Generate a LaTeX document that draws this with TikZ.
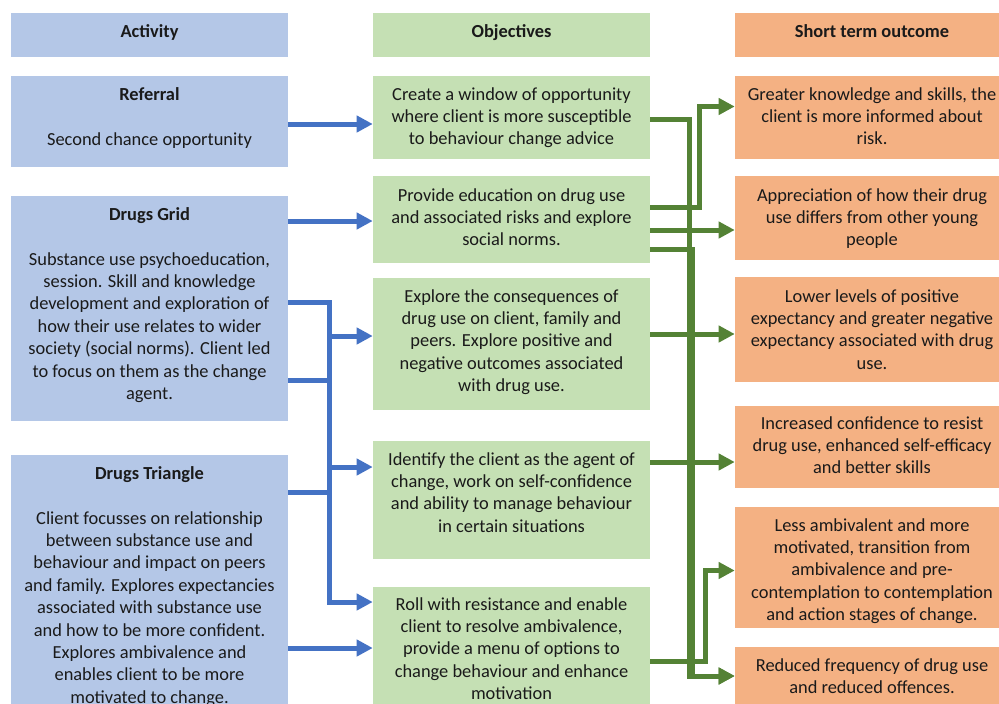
\documentclass[tikz,border=0pt]{standalone}
\usepackage{fontspec}
\setmainfont{Carlito}
\usetikzlibrary{arrows.meta,fit}
\definecolor{bfill}{HTML}{B4C7E7}
\definecolor{gfill}{HTML}{C5E0B4}
\definecolor{ofill}{HTML}{F4B183}
\definecolor{bline}{HTML}{4472C4}
\definecolor{gline}{HTML}{548235}
\definecolor{txtc}{HTML}{1A1A1A}
\begin{document}
\begin{tikzpicture}[x=0.75pt,y=-0.75pt,
  boxb/.style={rectangle,inner sep=0pt,fill=bfill},
  boxg/.style={rectangle,inner sep=0pt,fill=gfill},
  boxo/.style={rectangle,inner sep=0pt,fill=ofill},
  txt/.style={anchor=north,inner sep=0pt,align=center,text=txtc,
    font=\fontsize{13.8}{16.8}\selectfont,execute at begin node=\strut},
  bl/.style={draw=bline,line width=3.75pt},
  ba/.style={bl,-{Triangle[length=12pt,width=12pt]}},
  gl/.style={draw=gline,line width=3.75pt},
  ga/.style={gl,-{Triangle[length=12pt,width=12pt]}}
]
\useasboundingbox (0,0) rectangle (999,703);
% ---- boxes
\node[boxb,fit={(11,13) (288,57)}] (hA) {};
\node[boxb,fit={(11,76) (288,167)}] (ref) {};
\node[boxb,fit={(11,196) (288,421)}] (grid) {};
\node[boxb,fit={(11,455) (288,720)}] (tri) {};
\node[boxg,fit={(373,13) (650,57)}] (hO) {};
\node[boxg,fit={(373,76) (650,159)}] (o1) {};
\node[boxg,fit={(373,176) (650,263)}] (o2) {};
\node[boxg,fit={(373,278) (650,410)}] (o3) {};
\node[boxg,fit={(373,441) (650,559)}] (o4) {};
\node[boxg,fit={(373,587) (650,720)}] (o5) {};
\node[boxo,fit={(735,13) (1010,57)}] (hS) {};
\node[boxo,fit={(735,76) (1010,159)}] (s1) {};
\node[boxo,fit={(735,176) (1010,260)}] (s2) {};
\node[boxo,fit={(735,277) (1010,382)}] (s3) {};
\node[boxo,fit={(735,406) (1010,488)}] (s4) {};
\node[boxo,fit={(735,507) (1010,628)}] (s5) {};
\node[boxo,fit={(735,647) (1010,720)}] (s6) {};
% ---- texts
\node[txt] (hAt) at (149.5,21.6) {\textbf{Activity}};
\node[txt] (hOt) at (511.5,21.6) {\textbf{Objectives}};
\node[txt] (hSt) at (872,21.6) {\textbf{Short term outcome}};
\node[txt] (reft) at (149.5,87.1) {\textbf{Referral}\\[16.8pt]Second chance opportunity};
\node[txt] (gridt) at (149.5,207.1) {\textbf{Drugs Grid}\\[16.8pt]Substance use psychoeducation,\\session. Skill and knowledge\\development and exploration of\\how their use relates to wider\\society (social norms). Client led\\to focus on them as the change\\agent.};
\node[txt] (trit) at (149.5,466.1) {\textbf{Drugs Triangle}\\[16.8pt]Client focusses on relationship\\between substance use and\\behaviour and impact on peers\\and family. Explores expectancies\\associated with substance use\\and how to be more confident.\\Explores ambivalence and\\enables client to be more\\motivated to change.};
\node[txt] (o1t) at (511.5,87.1) {Create a window of opportunity\\where client is more susceptible\\to behaviour change advice};
\node[txt] (o2t) at (511.5,188.1) {Provide education on drug use\\and associated risks and explore\\social norms.};
\node[txt] (o3t) at (511.5,289.1) {Explore the consequences of\\drug use on client, family and\\peers. Explore positive and\\negative outcomes associated\\with drug use.};
\node[txt] (o4t) at (511.5,452.1) {Identify the client as the agent of\\change, work on self-confidence\\and ability to manage behaviour\\in certain situations};
\node[txt] (o5t) at (511.5,597.1) {Roll with resistance and enable\\client to resolve ambivalence,\\provide a menu of options to\\change behaviour and enhance\\motivation};
\node[txt] (s1t) at (872,87.1) {Greater knowledge and skills, the\\client is more informed about\\risk.};
\node[txt] (s2t) at (872,188.1) {Appreciation of how their drug\\use differs from other young\\people};
\node[txt] (s3t) at (872,289.1) {Lower levels of positive\\expectancy and greater negative\\expectancy associated with drug\\use.};
\node[txt] (s4t) at (872,416.1) {Increased confidence to resist\\drug use, enhanced self-efficacy\\and better skills};
\node[txt] (s5t) at (872,518.1) {Less ambivalent and more\\motivated, transition from\\ambivalence and pre-\\contemplation to contemplation\\and action stages of change.};
\node[txt] (s6t) at (872,658.1) {Reduced frequency of drug use\\and reduced offences.};
% ---- blue connectors
\coordinate (bb) at (329.5,602);
\draw[ba] (ref.east |- 0,124) -- (o1.west |- 0,124);
\draw[ba] (grid.east |- 0,221) -- (o2.west |- 0,221);
\draw[ba] (grid.east |- 0,302.5) -| (bb) -- (o5.west |- bb);
\draw[bl] (grid.east |- 0,380) -- (bb |- 0,380);
\draw[bl] (tri.east |- 0,492) -- (bb |- 0,492);
\draw[ba] (bb |- 0,336) -- (o3.west |- 0,336);
\draw[ba] (bb |- 0,467) -- (o4.west |- 0,467);
\draw[ba] (tri.east |- 0,648) -- (o5.west |- 0,648);
% ---- green connectors
\coordinate (gb) at (689,676);
\coordinate (gb2) at (692.5,676);
\coordinate (g1) at (699.5,106.5);
\coordinate (g5) at (705,570.5);
\draw[ga] (o1.east |- 0,119) -| (gb) -- (s6.west |- gb);
\draw[ga] (o2.east |- 0,249.5) -| (gb2) -- (s6.west |- gb2);
\draw[ga] (o2.east |- 0,207) -| (g1) -- (s1.west |- g1);
\draw[ga] (o2.east |- 0,230) -- (s2.west |- 0,230);
\draw[ga] (o3.east |- 0,334) -- (s3.west |- 0,334);
\draw[ga] (o4.east |- 0,462) -- (s4.west |- 0,462);
\draw[ga] (o5.east |- 0,661.5) -| (g5) -- (s5.west |- g5);
\end{tikzpicture}
\end{document}
